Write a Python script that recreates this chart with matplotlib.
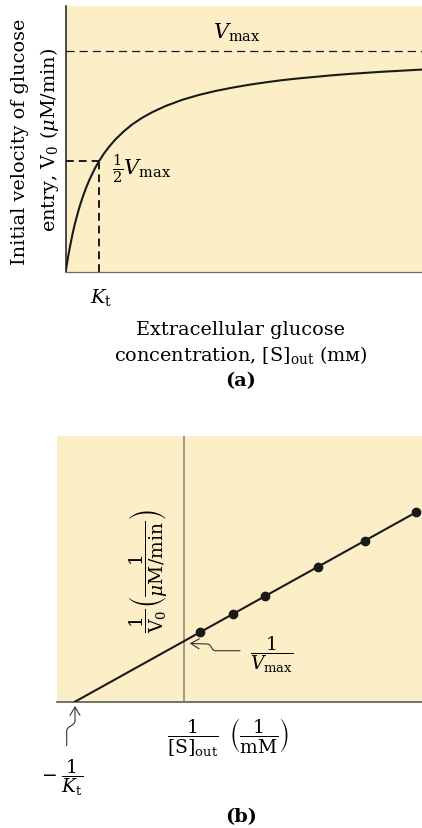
import matplotlib.pyplot as plt
from matplotlib.patches import FancyArrowPatch
from matplotlib.path import Path

plt.rcParams['font.family'] = ['DejaVu Serif']
plt.rcParams['mathtext.fontset'] = 'dejavuserif'

W, H = 422, 829
bg = '#fcefc8'

# panel (a): saturation curve, [S]out in units of Kt, V0 in units of Vmax
s_out = [0, 0.02, 0.05, 0.1, 0.15, 0.2, 0.27, 0.35, 0.43, 0.5, 0.6, 0.7, 0.8, 0.9, 1.0, 1.15, 1.3,
         1.5, 1.75, 2.0, 2.3, 2.6, 3.0, 3.5, 4.0, 4.5, 5.0, 5.5, 6.0, 6.5, 7.0, 7.5, 8.0, 8.5, 9.0,
         9.5, 10.0, 10.7]
v0 = [0, 0.020, 0.048, 0.091, 0.130, 0.167, 0.213, 0.259, 0.301, 0.333, 0.375, 0.412, 0.444,
      0.474, 0.5, 0.535, 0.565, 0.6, 0.636, 0.667, 0.697, 0.722, 0.75, 0.778, 0.8, 0.818, 0.833,
      0.846, 0.857, 0.867, 0.875, 0.882, 0.889, 0.895, 0.9, 0.905, 0.909, 0.915]
k_t = 1.0
v_max = 1.0

# panel (b): double-reciprocal plot, 1/[S] in units of 1/Kt, 1/V0 in units of 1/Vmax
inv_s = [0.144, 0.443, 0.738, 1.22, 1.653, 2.12]
inv_v = [1.144, 1.443, 1.738, 2.22, 2.653, 3.12]
fit_x = [-1.0, 2.12]
fit_y = [0.0, 3.12]


def fx(px):
    return px / W


def fy(py):
    return 1 - py / H


fig = plt.figure(figsize=(W / 100, H / 100), dpi=100)

# ---- panel (a)
ax1 = fig.add_axes([fx(65.7), fy(272.7), 1 - fx(65.7), fy(6.7) - fy(272.7)])
ax1.set_facecolor(bg)
ax1.plot(s_out, v0, color='#1a1a1a', lw=1.5, solid_capstyle='round', solid_joinstyle='round')
ax1.axhline(v_max, color='#1a1a1a', lw=0.9, linestyle=(0, (6.5, 4)))
ax1.plot([0, k_t], [v_max / 2, v_max / 2], color='#1a1a1a', lw=1.4, linestyle=(0, (4, 2.6)))
ax1.plot([k_t, k_t], [0, v_max / 2], color='#1a1a1a', lw=1.4, linestyle=(0, (4, 2.6)))
ax1.set_xlim(0, 10.7)
ax1.set_ylim(0, 1.204)
ax1.set_xticks([])
ax1.set_yticks([])
for side in ['top', 'right']:
    ax1.spines[side].set_visible(False)
ax1.spines['left'].set_color('#1a1a1a')
ax1.spines['left'].set_linewidth(1.1)
ax1.spines['bottom'].set_color('#6d6a66')
ax1.spines['bottom'].set_linewidth(0.9)

ax1.text(5.14, 1.085, r'$V_{\mathrm{max}}$', fontsize=15, ha='center', va='center')
ax1.text(1.38, 0.47, r'$\frac{1}{2}V_{\mathrm{max}}$', fontsize=15, ha='left', va='center')
ax1.text(1.06, -0.11, r'$K_{\mathrm{t}}$', fontsize=14, ha='center', va='center', clip_on=False)

fig.text(fx(20), fy(142), 'Initial velocity of glucose', rotation=90, fontsize=13.9,
         ha='center', va='center')
fig.text(fx(50), fy(140), r'entry, $\mathrm{V}_0$ ($\mu$M/min)', rotation=90, fontsize=13.9,
         ha='center', va='center')
fig.text(fx(241), fy(330), 'Extracellular glucose', fontsize=13.9, ha='center', va='center')
fig.text(fx(241), fy(355), r'concentration, [S]$_{\mathrm{out}}$ (mᴍ)', fontsize=13.9,
         ha='center', va='center')
fig.text(fx(241), fy(381), '(a)', fontsize=13.9, fontweight='bold', ha='center', va='center')

# ---- panel (b)
ax2 = fig.add_axes([fx(57.3), fy(702.7), 1 - fx(57.3), fy(437.3) - fy(702.7)])
ax2.set_facecolor(bg)
ax2.set_xlim(-1.162, 2.175)
ax2.set_ylim(0, 4.372)
ax2.set_xticks([])
ax2.set_yticks([])
for side in ax2.spines:
    ax2.spines[side].set_visible(False)
ax2.axhline(0, color='#5e5a55', lw=1.2, clip_on=False)
ax2.axvline(0, color='#8a7f6e', lw=1.1)
ax2.plot(fit_x, fit_y, color='#1a1a1a', lw=1.5)
ax2.plot(inv_s, inv_v, 'o', color='#1a1a1a', ms=6)

ax2.text(-0.33, 2.17, r'$\dfrac{1}{\mathrm{V}_0}\left(\dfrac{1}{\mu\mathrm{M/min}}\right)$',
         rotation=90, fontsize=13.5, ha='center', va='center')
ax2.text(0.8, 0.8, r'$\dfrac{1}{V_{\mathrm{max}}}$', fontsize=13.5, ha='center', va='center')
ax2.text(0.4, -0.57, r'$\dfrac{1}{[\mathrm{S}]_{\mathrm{out}}}\;\;\left(\dfrac{1}{\mathrm{mM}}\right)$',
         fontsize=13.5, ha='center', va='center', clip_on=False)
ax2.text(-1.12, -1.23, r'$-\;\dfrac{1}{K_{\mathrm{t}}}$', fontsize=13.5, ha='center', va='center',
         clip_on=False)
fig.text(fx(241), fy(817), '(b)', fontsize=13.9, fontweight='bold', ha='center', va='center')

# curly pointer arrows
vmax_path = Path([(0.51, 0.84), (0.28, 0.84), (0.25, 0.84), (0.25, 0.95), (0.21, 0.95), (0.05, 0.96)],
                 [Path.MOVETO, Path.LINETO, Path.CURVE4, Path.CURVE4, Path.CURVE4, Path.LINETO])
ax2.add_patch(FancyArrowPatch(path=vmax_path, arrowstyle='->,head_length=0.5,head_width=0.3',
                              mutation_scale=12, color='#333333', lw=0.8))
kt_path = Path([(-1.076, -0.725), (-1.076, -0.48), (-1.076, -0.40), (-1.0, -0.40), (-1.0, -0.31), (-1.0, -0.07)],
               [Path.MOVETO, Path.LINETO, Path.CURVE4, Path.CURVE4, Path.CURVE4, Path.LINETO])
ax2.add_patch(FancyArrowPatch(path=kt_path, arrowstyle='->,head_length=0.5,head_width=0.3',
                              mutation_scale=12, color='#333333', lw=0.8, clip_on=False))

fig.savefig('out.png', dpi=100)
